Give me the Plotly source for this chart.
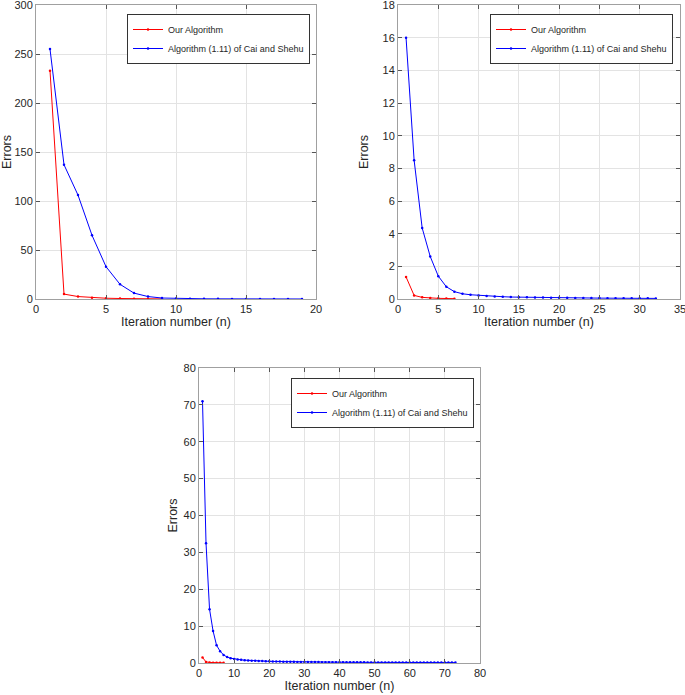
import plotly.graph_objects as go

# ---- data ----
red1 = [233, 5.0, 2.5, 1.3, 0.8, 0.5, 0.3, 0.2, 0.1]
blue1 = [255, 137, 106, 65, 33, 15, 6.0, 2.5, 1.0, 0.5, 0.3, 0.2, 0.15, 0.1, 0.08, 0.06, 0.05, 0.04, 0.03]

red2 = [1.35, 0.22, 0.10, 0.06, 0.04, 0.03, 0.02]
blue2 = [16.0, 8.5, 4.35, 2.6, 1.4, 0.75, 0.45, 0.32, 0.26, 0.22, 0.19, 0.16, 0.14, 0.12, 0.11, 0.10,
         0.09, 0.085, 0.08, 0.075, 0.07, 0.065, 0.06, 0.057, 0.054, 0.051, 0.048, 0.045, 0.043, 0.041, 0.039, 0.037]

red3 = [1.5, 0.3, 0.15, 0.1, 0.07, 0.05, 0.04]
blue3 = [71.0, 32.5, 14.6, 8.7, 4.8, 3.2, 2.2, 1.6, 1.3, 1.1, 0.95, 0.85, 0.77, 0.70, 0.64, 0.59, 0.55, 0.51,
         0.48, 0.45, 0.42, 0.40, 0.38, 0.36, 0.34, 0.33, 0.31, 0.30, 0.29, 0.28, 0.27, 0.26, 0.25, 0.24,
         0.235, 0.23, 0.22, 0.215, 0.21, 0.205, 0.20, 0.195, 0.19, 0.185, 0.18, 0.175, 0.17, 0.167, 0.164,
         0.161, 0.158, 0.155, 0.152, 0.149, 0.146, 0.143, 0.14, 0.137, 0.134, 0.131, 0.128, 0.125, 0.122,
         0.12, 0.118, 0.116, 0.114, 0.112, 0.11, 0.108, 0.106, 0.104, 0.102]

name_red = "Our Algorithm"
name_blue = "Algorithm (1.11) of Cai and Shehu"
xlabel = "Iteration number (n)"
ylabel = "Errors"

W, H = 685, 695
panels = [
    dict(red=red1, blue=blue1, xr=[0, 20], xd=5, yr=[0, 300], yd=50,
         box=(36, 316, 5, 299), leg=(127, 14), ystand=1),
    dict(red=red2, blue=blue2, xr=[0, 35], xd=5, yr=[0, 18], yd=2,
         box=(398, 680, 5, 299), leg=(490, 14), ystand=11),
    dict(red=red3, blue=blue3, xr=[0, 80], xd=10, yr=[0, 80], yd=10,
         box=(199, 480, 368, 663), leg=(291, 378), ystand=3),
]

FONT = "Liberation Sans, Arial, sans-serif"
fig = go.Figure()
layout = dict(width=W, height=H, margin=dict(l=0, r=0, t=0, b=0),
              paper_bgcolor="white", plot_bgcolor="white",
              font=dict(family=FONT, size=11, color="#262626"))

for i, p in enumerate(panels, start=1):
    sfx = "" if i == 1 else str(i)
    lg = "legend" if i == 1 else f"legend{i}"
    xn = list(range(1, len(p["red"]) + 1))
    xb = list(range(1, len(p["blue"]) + 1))
    fig.add_trace(go.Scatter(x=xn, y=p["red"], mode="lines+markers", name=name_red,
                             line=dict(color="#ff0000", width=1),
                             marker=dict(size=2.5, color="#ff0000"),
                             xaxis="x" + sfx, yaxis="y" + sfx, legend=lg))
    fig.add_trace(go.Scatter(x=xb, y=p["blue"], mode="lines+markers", name=name_blue,
                             line=dict(color="#0000ff", width=1),
                             marker=dict(size=2.5, color="#0000ff"),
                             xaxis="x" + sfx, yaxis="y" + sfx, legend=lg))
    x0, x1, y0, y1 = p["box"]
    ax_common = dict(showline=True, linecolor="#a0a0a0", linewidth=1, mirror="ticks",
                     ticks="inside", ticklen=4, tickcolor="#555555", automargin=False,
                     ticklabeloverflow="allow",
                     showgrid=True, gridcolor="#e3e3e3", gridwidth=1, zeroline=False,
                     tickfont=dict(size=11, color="#262626"))
    layout["xaxis" + sfx] = dict(ax_common, domain=[x0 / W, x1 / W], range=p["xr"], dtick=p["xd"],
                                 tick0=0, anchor="y" + sfx,
                                 title=dict(text=xlabel, font=dict(size=12.5), standoff=2))
    layout["yaxis" + sfx] = dict(ax_common, domain=[1 - y1 / H, 1 - y0 / H], range=p["yr"], dtick=p["yd"],
                                 tick0=0, anchor="x" + sfx,
                                 title=dict(text=ylabel, font=dict(size=12.5), standoff=p["ystand"]))
    lx, ly = p["leg"]
    layout[lg] = dict(x=lx / W, y=1 - ly / H, xanchor="left", yanchor="top",
                      bgcolor="white", bordercolor="#333333", borderwidth=1,
                      font=dict(size=9, color="#262626"), tracegroupgap=0,
                      itemwidth=30)

fig.update_layout(**layout)
fig.write_html("out.html", config={"displayModeBar": False},
               post_script="document.body.style.margin='0';document.body.style.overflow='hidden';")
